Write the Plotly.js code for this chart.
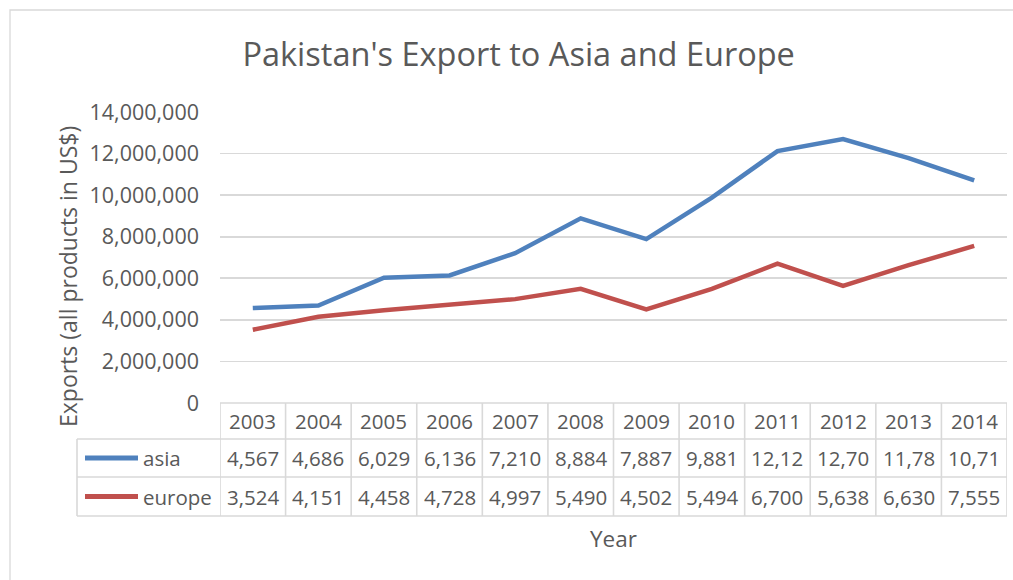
<!DOCTYPE html>
<html>
<head>
<meta charset="utf-8">
<script src="https://cdn.plot.ly/plotly-3.0.1.min.js"></script>
<style>html,body{margin:0;padding:0;background:#fff;}#chart{width:1013px;height:580px;}</style>
</head>
<body>
<div id="chart"></div>
<script>
// ---- data ----
const years = ["2003","2004","2005","2006","2007","2008","2009","2010","2011","2012","2013","2014"];
const asia = [4567000, 4686000, 6029000, 6136000, 7210000, 8884000, 7887000, 9881000, 12120000, 12700000, 11780000, 10710000];
const europe = [3524000, 4151000, 4458000, 4728000, 4997000, 5490000, 4502000, 5494000, 6700000, 5638000, 6630000, 7555000];
const seriesNames = ["asia", "europe"];
const titleText = "Pakistan's Export to Asia and Europe";
const yTitle = "Exports (all products in US$)";
const xTitle = "Year";

// ---- geometry helpers (pixel -> paper) ----
const W = 1013, H = 580;
const L = 220, R = 1007, T = 112, B = 403;
const px = x => (x - L) / (R - L);
const py = y => (B - y) / (B - T);

const FONT = "Open Sans";
const GREY = "#595959";
const LINEC = "#d9d9d9";
const colors = ["#4f81bd", "#c0504d"];

const traces = [asia, europe].map((vals, i) => ({
  type: "scatter", mode: "lines", x: years, y: vals, name: seriesNames[i],
  line: {color: colors[i], width: 4.5}, hoverinfo: "x+y"
}));

const fmt = v => v.toLocaleString("en-US").slice(0, 5);

const shapes = [];
const annotations = [];
// outer chart border
shapes.push({type: "rect", xref: "paper", yref: "paper", x0: px(10), x1: px(1015), y0: py(590), y1: py(10), line: {color: LINEC, width: 1.3}});
// table horizontal lines
const rowY = [403, 439, 477, 516];
rowY.forEach((y, k) => {
  shapes.push({type: "line", xref: "paper", yref: "paper", x0: k === 0 ? 0 : px(77), x1: 1, y0: py(y), y1: py(y), line: {color: LINEC, width: 1.6}});
});
// table vertical lines
for (let i = 0; i <= years.length; i++) {
  shapes.push({type: "line", xref: "x", yref: "paper", x0: i - 0.5, x1: i - 0.5, y0: py(403), y1: py(516), line: {color: LINEC, width: 1.6}});
}
shapes.push({type: "line", xref: "paper", yref: "paper", x0: px(77), x1: px(77), y0: py(439), y1: py(516), line: {color: LINEC, width: 1.6}});

const rowCenters = [421, 458, 496.5];
const tf = {family: FONT, size: 20.5, color: GREY};
years.forEach((yr, i) => {
  annotations.push({xref: "x", yref: "paper", x: i, y: py(rowCenters[0]), text: yr, showarrow: false, font: tf, xanchor: "center", yanchor: "middle"});
  annotations.push({xref: "x", yref: "paper", x: i, y: py(rowCenters[1]), text: fmt(asia[i]), showarrow: false, font: tf, xanchor: "center", yanchor: "middle"});
  annotations.push({xref: "x", yref: "paper", x: i, y: py(rowCenters[2]), text: fmt(europe[i]), showarrow: false, font: tf, xanchor: "center", yanchor: "middle"});
});
// legend keys in table
seriesNames.forEach((n, k) => {
  const y = rowCenters[k + 1];
  shapes.push({type: "line", xref: "paper", yref: "paper", x0: px(85), x1: px(138), y0: py(y), y1: py(y), line: {color: colors[k], width: 5}});
  annotations.push({xref: "paper", yref: "paper", x: px(141), y: py(y), text: n, showarrow: false, font: tf, xanchor: "left", yanchor: "middle"});
});
// axis titles
annotations.push({xref: "paper", yref: "paper", x: px(68), y: py(277), text: yTitle, textangle: -90, showarrow: false, font: {family: FONT, size: 23, color: GREY}, xanchor: "center", yanchor: "middle"});
annotations.push({xref: "paper", yref: "paper", x: 0.5, y: py(538), text: xTitle, showarrow: false, font: {family: FONT, size: 22.5, color: GREY}, xanchor: "center", yanchor: "middle"});

const layout = {
  width: W, height: H,
  margin: {l: L, r: W - R, t: T, b: H - B},
  paper_bgcolor: "#fff", plot_bgcolor: "#fff",
  showlegend: false,
  title: {text: titleText, x: 0.512, xanchor: "center", y: 1 - 55 / H, yanchor: "middle", font: {family: FONT, size: 32.5, color: GREY}},
  xaxis: {type: "category", categoryorder: "array", categoryarray: years, range: [-0.5, years.length - 0.5],
          showticklabels: false, showgrid: false, zeroline: false, showline: false, ticks: ""},
  yaxis: {range: [0, 14000000], dtick: 2000000, tick0: 0, tickformat: ",d", showgrid: true, gridcolor: LINEC, gridwidth: 1.6,
          zeroline: false, showline: false, ticks: "", ticklabelstandoff: 20,
          tickfont: {family: FONT, size: 21.5, color: GREY}},
  shapes: shapes, annotations: annotations
};
Plotly.newPlot("chart", traces, layout, {displayModeBar: false, staticPlot: true});
</script>
</body>
</html>
